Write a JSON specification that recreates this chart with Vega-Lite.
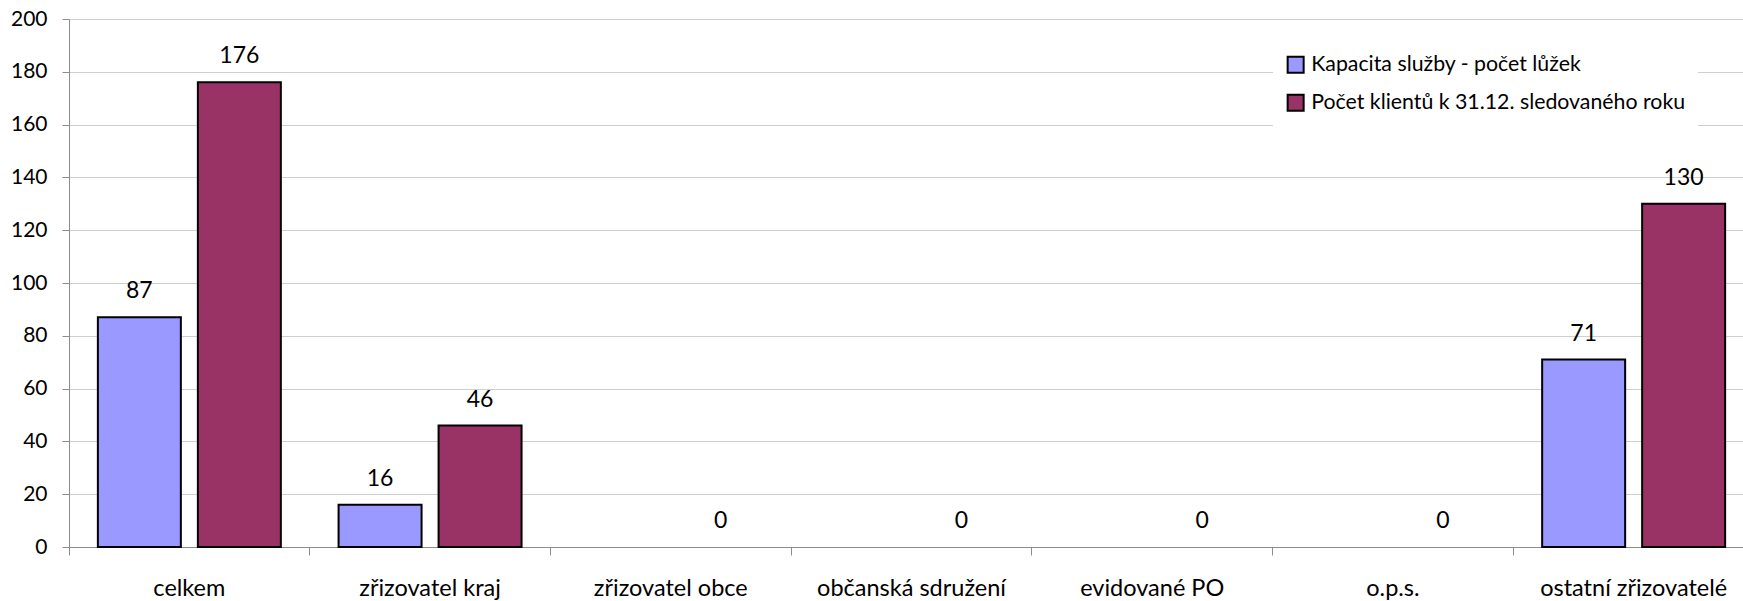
{
  "$schema": "https://vega.github.io/schema/vega-lite/v6.json",
  "width": 1685,
  "height": 528,
  "autosize": {"type": "none"},
  "padding": {"left": 69, "top": 19, "right": 0, "bottom": 54},
  "background": "white",
  "config": {
    "view": {"stroke": null},
    "font": "Lato",
    "axis": {"labelFont": "Lato", "labelColor": "black", "domainColor": "#8c8c8c", "tickColor": "#8c8c8c", "gridColor": "#cfcfcf", "labelLimit": 0},
    "legend": {"labelFont": "Lato", "labelFontSize": 21.3, "labelColor": "black", "labelLimit": 0}
  },
  "data": {
    "values": [
      {"kategorie": "celkem", "rada": "Kapacita služby - počet lůžek", "hodnota": 87},
      {"kategorie": "celkem", "rada": "Počet klientů k 31.12. sledovaného roku", "hodnota": 176},
      {"kategorie": "zřizovatel kraj", "rada": "Kapacita služby - počet lůžek", "hodnota": 16},
      {"kategorie": "zřizovatel kraj", "rada": "Počet klientů k 31.12. sledovaného roku", "hodnota": 46},
      {"kategorie": "zřizovatel obce", "rada": "Kapacita služby - počet lůžek", "hodnota": null},
      {"kategorie": "zřizovatel obce", "rada": "Počet klientů k 31.12. sledovaného roku", "hodnota": 0},
      {"kategorie": "občanská sdružení", "rada": "Kapacita služby - počet lůžek", "hodnota": null},
      {"kategorie": "občanská sdružení", "rada": "Počet klientů k 31.12. sledovaného roku", "hodnota": 0},
      {"kategorie": "evidované PO", "rada": "Kapacita služby - počet lůžek", "hodnota": null},
      {"kategorie": "evidované PO", "rada": "Počet klientů k 31.12. sledovaného roku", "hodnota": 0},
      {"kategorie": "o.p.s.", "rada": "Kapacita služby - počet lůžek", "hodnota": null},
      {"kategorie": "o.p.s.", "rada": "Počet klientů k 31.12. sledovaného roku", "hodnota": 0},
      {"kategorie": "ostatní zřizovatelé", "rada": "Kapacita služby - počet lůžek", "hodnota": 71},
      {"kategorie": "ostatní zřizovatelé", "rada": "Počet klientů k 31.12. sledovaného roku", "hodnota": 130}
    ]
  },
  "encoding": {
    "x": {
      "field": "kategorie", "type": "nominal",
      "sort": ["celkem", "zřizovatel kraj", "zřizovatel obce", "občanská sdružení", "evidované PO", "o.p.s.", "ostatní zřizovatelé"],
      "scale": {"paddingInner": 0, "paddingOuter": 0},
      "axis": {"title": null, "labelAngle": 0, "bandPosition": 0, "tickSize": 8, "labelPadding": 40, "labelBaseline": "alphabetic", "labelFontSize": 23.5, "labelLimit": 0, "grid": false}
    },
    "xOffset": {
      "field": "rada", "type": "nominal", "sort": null,
      "scale": {"domain": ["Kapacita služby - počet lůžek", "Počet klientů k 31.12. sledovaného roku"], "paddingInner": 0.17, "paddingOuter": 0.2887}
    },
    "y": {
      "field": "hodnota", "type": "quantitative",
      "scale": {"domain": [0, 200], "nice": false},
      "axis": {"title": null, "values": [0, 20, 40, 60, 80, 100, 120, 140, 160, 180, 200], "tickSize": 7, "labelPadding": 15, "labelFontSize": 21, "grid": true}
    }
  },
  "layer": [
    {
      "transform": [{"filter": "datum.hodnota > 0"}],
      "mark": {"type": "bar", "stroke": "black", "strokeWidth": 2},
      "encoding": {
        "color": {
          "field": "rada", "type": "nominal", "sort": null,
          "scale": {"domain": ["Kapacita služby - počet lůžek", "Počet klientů k 31.12. sledovaného roku"], "range": ["#9999FF", "#993366"]},
          "legend": {
            "title": null, "orient": "none", "legendX": 1204, "legendY": 23,
            "padding": 12, "fillColor": "white", "strokeColor": null,
            "symbolType": "square", "symbolSize": 256, "symbolStrokeColor": "black", "symbolStrokeWidth": 2, "symbolOpacity": 1,
            "labelOffset": 5, "rowPadding": 13
          }
        }
      }
    },
    {
      "mark": {"type": "text", "baseline": "alphabetic", "dy": -19, "fontSize": 23, "font": "Lato", "color": "black"},
      "encoding": {
        "text": {"field": "hodnota", "type": "quantitative"}
      }
    }
  ]
}
